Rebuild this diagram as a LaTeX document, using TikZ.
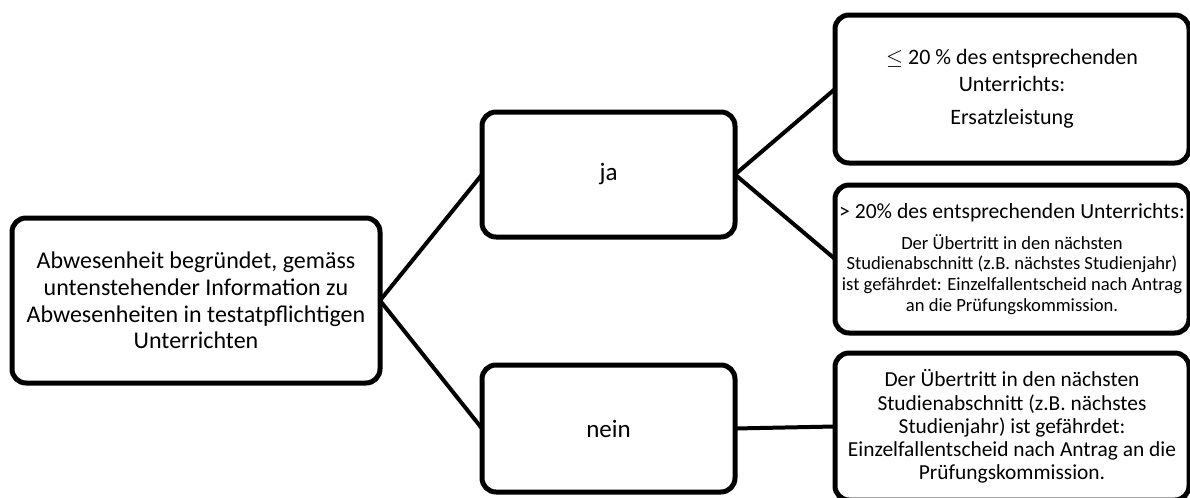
\documentclass[tikz,border=0pt]{standalone}
\usepackage{fontspec}
\setmainfont{Carlito}

\begin{document}
\begin{tikzpicture}[x=0.5pt,y=-0.5pt,
  box/.style={draw,line width=2.5pt,rounded corners=7pt,align=center,inner sep=0pt,outer sep=0pt},
  link/.style={line width=2pt}]
  \useasboundingbox (0,0) rectangle (1190,498);
  % Ausgangslage
  \node[box,minimum width=184pt,minimum height=82.5pt,font=\fontsize{12}{13.3}\selectfont] (grund) at (196,300.5)
    {Abwesenheit begründet, gemäss\\untenstehender Information zu\\Abwesenheiten in testatpflichtigen\\Unterrichten};
  \node[box,minimum width=126.5pt,minimum height=62.5pt,font=\fontsize{12.5}{14}\selectfont] (ja) at (608.5,174.5) {ja};
  \node[box,minimum width=126.5pt,minimum height=63.5pt,font=\fontsize{12.5}{14}\selectfont] (nein) at (608.5,428.5) {nein};
  % Folgen
  \node[box,minimum width=177pt,minimum height=74pt,font=\fontsize{11}{13.5}\selectfont] (wenig) at (1012,89)
    {$\leq$ 20 \% des entsprechenden\\Unterrichts:\\[3pt]Ersatzleistung};
  \node[box,minimum width=177pt,minimum height=74pt,font=\fontsize{9.3}{10.4}\selectfont] (viel) at (1012,259)
    {{\fontsize{10.8}{13}\selectfont > 20\% des entsprechenden Unterrichts:}\\[5pt]
     Der Übertritt in den nächsten\\Studienabschnitt (z.B. nächstes Studienjahr)\\
     ist gefährdet: Einzelfallentscheid nach Antrag\\an die Prüfungskommission.};
  \node[box,minimum width=177pt,minimum height=73.5pt,font=\fontsize{10.7}{11.6}\selectfont] (gefahr) at (1012,426.5)
    {Der Übertritt in den nächsten\\Studienabschnitt (z.B. nächstes\\Studienjahr) ist gefährdet:\\Einzelfallentscheid nach Antrag an die\\Prüfungskommission.};
  \draw[link] (grund.east)--(ja.west);
  \draw[link] (grund.east)--(nein.west);
  \draw[link] (ja.east)--(wenig.west);
  \draw[link] (ja.east)--(viel.west);
  \draw[link] (nein.east)--(gefahr.west);
\end{tikzpicture}
\end{document}
